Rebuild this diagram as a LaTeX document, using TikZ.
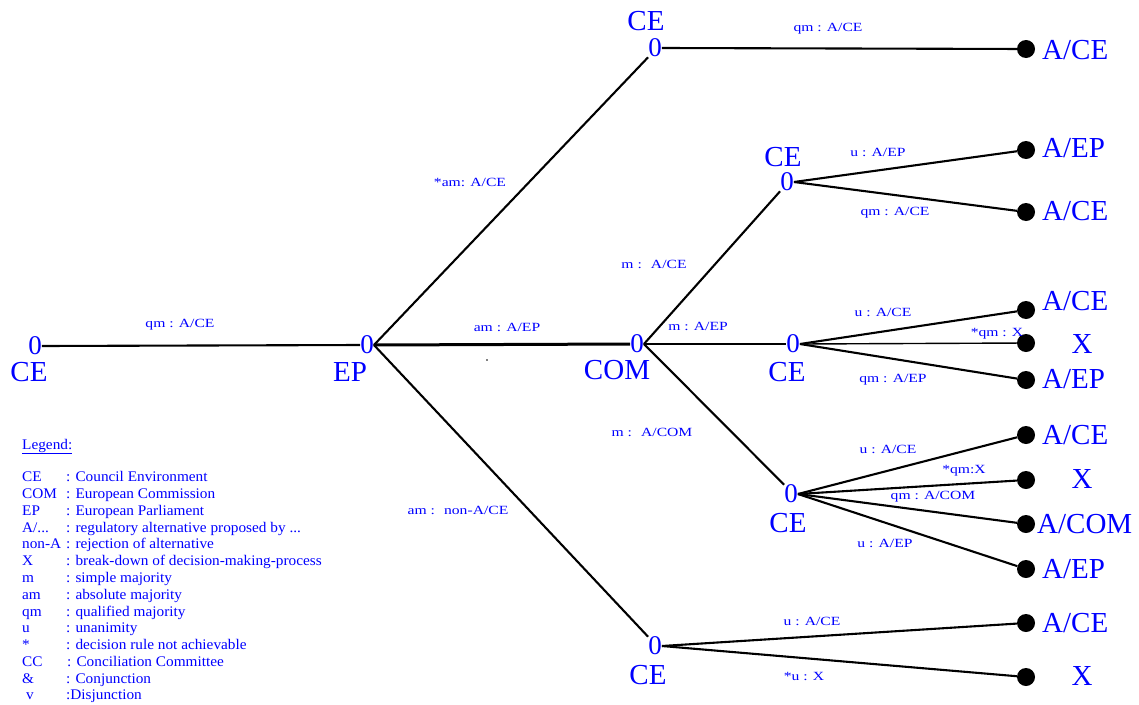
\documentclass[tikz,border=0pt]{standalone}
\usepackage{fontspec}
\setmainfont{Liberation Serif}
\newfontfamily\labfont[FakeStretch=1.25]{Liberation Serif}
\newfontfamily\legfont[FakeStretch=1.04]{Liberation Serif}
\tikzset{
  big/.style={text=blue, font=\fontsize{29}{29}\selectfont, inner sep=0pt, anchor=base},
  bigw/.style={big, anchor=base west},
  zero/.style={text=blue, font=\fontsize{27}{27}\selectfont, inner sep=0pt},
  term/.style={circle, fill=black, minimum size=18pt, inner sep=0pt},
  el/.style={text=blue, font=\labfont\fontsize{12.5}{12.5}\selectfont, inner sep=0pt, anchor=base},
  branch/.style={line width=2.1pt},
  thinbranch/.style={line width=1.4pt},
  thickbranch/.style={line width=3pt},
  leg/.style={text=blue, font=\legfont\fontsize{14.7}{14.7}\selectfont, inner sep=0pt, anchor=base west},
}
\begin{document}
\begin{tikzpicture}[x=1pt,y=-1pt]
\useasboundingbox (0,0) rectangle (1139,704);

% decision nodes
\node[zero] (r) at (35,346) {0};
\node[zero] (ep) at (367,345) {0};
\node[zero] (com) at (637,344) {0};
\node[zero] (c1) at (655,48) {0};
\node[zero] (c2) at (787,182) {0};
\node[zero] (c3) at (793,344) {0};
\node[zero] (c4) at (791,494) {0};
\node[zero] (c5) at (655,646) {0};

% actor labels
\node[big] (rl) at (29,381) {CE};
\node[big] (epl) at (350,381) {EP};
\node[big] (coml) at (617,379) {COM};
\node[big] (c1l) at (646,30) {CE};
\node[big] (c2l) at (783,166) {CE};
\node[big] (c3l) at (787,381) {CE};
\node[big] (c4l) at (788,532) {CE};
\node[big] (c5l) at (648,684) {CE};

% terminal points
\node[term] (t1) at (1026,49) {};
\node[term] (t2) at (1026,150) {};
\node[term] (t3) at (1026,212) {};
\node[term] (t4) at (1026,310) {};
\node[term] (t5) at (1026,343) {};
\node[term] (t6) at (1026,380) {};
\node[term] (t7) at (1026,435) {};
\node[term] (t8) at (1026,480) {};
\node[term] (t9) at (1026,524) {};
\node[term] (t10) at (1026,569) {};
\node[term] (t11) at (1026,623) {};
\node[term] (t12) at (1026,677) {};

% outcome labels
\node[bigw] (l1) at (1042,59) {A/CE};
\node[bigw] (l2) at (1042,157) {A/EP};
\node[bigw] (l3) at (1042,220) {A/CE};
\node[bigw] (l4) at (1042,310) {A/CE};
\node[big] (l5) at (1082,353) {X};
\node[bigw] (l6) at (1042,388) {A/EP};
\node[bigw] (l7) at (1042,444) {A/CE};
\node[big] (l8) at (1082,488) {X};
\node[bigw] (l9) at (1037,533) {A/COM};
\node[bigw] (l10) at (1042,578) {A/EP};
\node[bigw] (l11) at (1042,632) {A/CE};
\node[big] (l12) at (1082,685) {X};

% branches
\draw[branch] (r.east) -- (ep.west);
\draw[branch] (ep.east) -- (c1.south west);
\draw[thickbranch] (ep.east) -- (com.west);
\draw[branch] (ep.east) -- (c5.north west);
\draw[branch] (com.east) -- (c2.south west);
\draw[thinbranch] (com.east) -- (c3.west);
\draw[branch] (com.east) -- (c4.north west);
\draw[branch] (c1.east) -- (t1);
\draw[branch] (c2.east) -- (t2);
\draw[branch] (c2.east) -- (t3);
\draw[branch] (c3.east) -- (t4);
\draw[thinbranch] (c3.east) -- (t5);
\draw[branch] (c3.east) -- (t6);
\draw[branch] (c4.east) -- (t7);
\draw[branch] (c4.east) -- (t8);
\draw[branch] (c4.east) -- (t9);
\draw[branch] (c4.east) -- (t10);
\draw[branch] (c5.east) -- (t11);
\draw[branch] (c5.east) -- (t12);

% stray dot
\fill (487,360) circle (0.8);

% branch labels
\node[el] (e1) at (180,327) {qm : A/CE};
\node[el] (e2) at (470,186) {*am: A/CE};
\node[el] (e3) at (507,331) {am : A/EP};
\node[el] (e4) at (458,514) {am :~ non-A/CE};
\node[el] (e5) at (654,268) {m :~ A/CE};
\node[el] (e6) at (698,330) {m : A/EP};
\node[el] (e7) at (652,436) {m :~ A/COM};
\node[el] (e8) at (828,31) {qm : A/CE};
\node[el] (e9) at (878,156) {u : A/EP};
\node[el] (e10) at (895,215) {qm : A/CE};
\node[el] (e11) at (883,316) {u : A/CE};
\node[el] (e12) at (997,336) {*qm : X};
\node[el] (e13) at (893,382) {qm : A/EP};
\node[el] (e14) at (888,453) {u : A/CE};
\node[el] (e15) at (964,473) {*qm:X};
\node[el] (e16) at (933,499) {qm : A/COM};
\node[el] (e17) at (885,547) {u : A/EP};
\node[el] (e18) at (812,625) {u : A/CE};
\node[el] (e19) at (804,680) {*u : X};

% legend
\node[leg] (lgt) at (22,449) {\underline{Legend:}};
\node[leg] (k1) at (22,481.8) {CE};      \node[leg] (d1) at (66,481.8) {: Council Environment};
\node[leg] (k2) at (22,498.6) {COM};     \node[leg] (d2) at (66,498.6) {: European Commission};
\node[leg] (k3) at (22,515.3) {EP};      \node[leg] (d3) at (66,515.3) {: European Parliament};
\node[leg] (k4) at (22,532.1) {A/...};   \node[leg] (d4) at (66,532.1) {: regulatory alternative proposed by ...};
\node[leg] (k5) at (22,548.9) {non-A};   \node[leg] (d5) at (66,548.9) {: rejection of alternative};
\node[leg] (k6) at (22,565.7) {X};       \node[leg] (d6) at (66,565.7) {: break-down of decision-making-process};
\node[leg] (k7) at (22,582.4) {m};       \node[leg] (d7) at (66,582.4) {: simple majority};
\node[leg] (k8) at (22,599.2) {am};      \node[leg] (d8) at (66,599.2) {: absolute majority};
\node[leg] (k9) at (22,616.0) {qm};      \node[leg] (d9) at (66,616.0) {: qualified majority};
\node[leg] (k10) at (22,632.8) {u};      \node[leg] (d10) at (66,632.8) {: unanimity};
\node[leg] (k11) at (22,649.5) {*};      \node[leg] (d11) at (66,649.5) {: decision rule not achievable};
\node[leg] (k12) at (22,666.3) {CC};     \node[leg] (d12) at (67,666.3) {: Conciliation Committee};
\node[leg] (k13) at (22,683.1) {\&};     \node[leg] (d13) at (66,683.1) {: Conjunction};
\node[leg] (k14) at (26,699.9) {v};      \node[leg] (d14) at (66,699.9) {:Disjunction};
\end{tikzpicture}
\end{document}
